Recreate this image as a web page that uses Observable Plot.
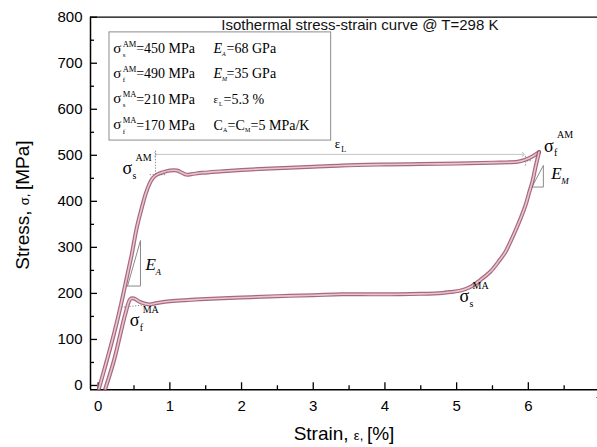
<!DOCTYPE html>
<html><head><meta charset="utf-8">
<script src="https://cdn.jsdelivr.net/npm/d3@7"></script>
<script src="https://cdn.jsdelivr.net/npm/@observablehq/plot@0.6"></script>
<style>html,body{margin:0;padding:0;background:#fff;overflow:hidden}svg{display:block}</style>
</head><body><div id="chart"></div>
<script>
// ---- data (strain in %, stress in MPa) ----
const loadStrain = [0.01,0.12,0.22,0.31,0.40,0.47,0.54,0.61,0.66,0.71,0.76,0.82,0.90,1.00,1.10,1.17,1.23,1.30,1.45,1.70,2.00,2.50,3.00,3.40,4.00,4.50,5.00,5.50,5.85,5.95,6.05,6.15];
const loadStress = [-7,54,112,170,235,286,344,387,415,436,450,458,463,467,467,462,458,459,462,465,468,472,475,478,480,481,482,484,486,490,497,507];
const unloadStrain = [6.15,6.10,6.06,6.01,5.96,5.89,5.82,5.75,5.68,5.58,5.47,5.33,5.19,5.05,4.92,4.80,4.50,4.20,3.80,3.40,3.00,2.50,2.00,1.50,1.29,1.00,0.82,0.71,0.59,0.50,0.45,0.38,0.31,0.22,0.10];
const unloadStress = [507,474,445,418,391,362,336,312,290,268,247,229,214,206,203,201,199,198,198,198,196,194,191,188,186,183,179,176,181,189,188,156,112,54,-7];

const xTicks = [0,1,2,3,4,5,6];
const xMinor = [0.5,1.5,2.5,3.5,4.5,5.5,6.5];
const yTicks = [0,100,200,300,400,500,600,700,800];
const yMinor = [50,150,250,350,450,550,650,750];
const xDomain = [-0.107, 6.965];
const yDomain = [-9.4, 800];

// parameter box
const titleText = "Isothermal stress-strain curve @ T=298 K";
const titlePos = [3.65, 782];
const boxX = [0.158, 3.25];
const boxY = [532, 767];
const rowY = [731, 677, 622, 565];
const col1X = 0.21, col2X = 1.61;
const sigSub = ["s","f","s","f"];
const sigSup = ["AM","AM","MA","MA"];
const sigVal = ["=450 MPa","=490 MPa","=210 MPa","=170 MPa"];
const modSub = ["A","M"];
const modVal = ["=68 GPa","=35 GPa"];
const epsRow = {base: "ε", sub: "L", val: "=5.3 %"};
const cRow = {base: "C", sub1: "A", mid: "=C", sub2: "M", val: "=5 MPa/K"};

// annotations on the curve: [strain, stress]
const sigmaLabels = [
  {x: 0.34, y: 471, sub: "s", sup: "AM"},
  {x: 0.44, y: 141, sub: "f", sup: "MA"},
  {x: 6.22, y: 520, sub: "f", sup: "AM"},
  {x: 5.04, y: 193, sub: "s", sup: "MA"}
];
const triA = [[0.41,216],[0.59,315],[0.59,216],[0.41,216]];
const triM = [[6.05,431],[6.21,478],[6.21,431],[6.05,431]];
const eLabels = [{x: 0.66, y: 262, sub: "A"}, {x: 6.32, y: 460, sub: "M"}];
const epsL = {x1: 0.80, x2: 5.93, y: 502, lx: 3.30, ly: 524};
const dotted = [
  {x1: 0.80, y1: 510, x2: 0.80, y2: 452},
  {x1: 0.72, y1: 458, x2: 0.95, y2: 458},
  {x1: 0.32, y1: 170, x2: 0.85, y2: 178},
  {x1: 4.84, y1: 205, x2: 5.02, y2: 205},
  {x1: 5.94, y1: 488, x2: 6.06, y2: 488},
  {x1: 5.96, y1: 478, x2: 5.96, y2: 500}
];

const load = loadStrain.map((x,i)=>({x, y: loadStress[i]}));
const unload = unloadStrain.map((x,i)=>({x, y: unloadStress[i]}));
const rows = rowY.map((y,i)=>({y, i}));
const modRows = rows.slice(0,2);

const W = 597, H = 447, mL = 90, mR = 0, mT = 16.7, mB = 57.7;
const innerW = W - mL - mR, innerH = H - mT - mB;
const serif = "'Liberation Serif','Times New Roman',serif";
const curveDark = "#9a4d66", curveLight = "#e6c6cf";

const chart = Plot.plot({
  width: W, height: H,
  marginLeft: mL, marginRight: mR, marginTop: mT, marginBottom: mB,
  x: {domain: xDomain},
  y: {domain: yDomain},
  style: {fontFamily: "'Liberation Sans',Arial,sans-serif", fontSize: "15px", color: "#000", background: "#fff"},
  marks: [
    // tick marks (inward)
    Plot.ruleX(xTicks, {x: d=>d, insetTop: innerH - 7, stroke: "#000", strokeWidth: 1.3}),
    Plot.ruleX(xMinor, {x: d=>d, insetTop: innerH - 4, stroke: "#000", strokeWidth: 1.3}),
    Plot.ruleY(yTicks, {y: d=>d, insetRight: innerW - 7, stroke: "#000", strokeWidth: 1.3}),
    Plot.ruleY(yMinor, {y: d=>d, insetRight: innerW - 4, stroke: "#000", strokeWidth: 1.3}),
    Plot.axisX({ticks: xTicks, tickSize: 0, tickPadding: 11, fontSize: 15}),
    Plot.axisY({ticks: yTicks, tickSize: 0, tickPadding: 8, fontSize: 15, label: null}),
    Plot.text(["7"], {x: 7, frameAnchor: "bottom", dy: 17, fontSize: 15}),
    // frame (left, bottom, top)
    Plot.ruleX([xDomain[0]], {stroke: "#000", strokeWidth: 1.5}),
    Plot.ruleY([yDomain[0]], {stroke: "#000", strokeWidth: 1.5}),
    Plot.ruleY([yDomain[1]], {stroke: "#000", strokeWidth: 1.2}),
    // parameter box
    Plot.rect([0], {x1: boxX[0], x2: boxX[1], y1: boxY[0], y2: boxY[1], fill: "none", stroke: "#8c8c8c", strokeWidth: 1}),
    Plot.text([titleText], {x: titlePos[0], y: titlePos[1], fontSize: 15, fill: "#111"}),
    Plot.text(rows, {x: col1X, y: "y", text: ()=>"σ", textAnchor: "start", fontSize: 15, fontFamily: serif, dy: -1}),
    Plot.text(rows, {x: col1X, y: "y", text: d=>sigSub[d.i], textAnchor: "start", fontSize: 7, fontFamily: serif, dx: 9.5, dy: 6}),
    Plot.text(rows, {x: col1X, y: "y", text: d=>sigSup[d.i], textAnchor: "start", fontSize: 8.5, fontFamily: serif, dx: 9.5, dy: -5}),
    Plot.text(rows, {x: col1X, y: "y", text: d=>sigVal[d.i], textAnchor: "start", fontSize: 14, fontFamily: serif, dx: 23}),
    // E_A, E_M rows
    Plot.text(modRows, {x: col2X, y: "y", text: ()=>"E", textAnchor: "start", fontSize: 14, fontFamily: serif, fontStyle: "italic"}),
    Plot.text(modRows, {x: col2X, y: "y", text: d=>modSub[d.i], textAnchor: "start", fontSize: 6, fontFamily: serif, fontStyle: "italic", dx: 8.5, dy: 5}),
    Plot.text(modRows, {x: col2X, y: "y", text: d=>modVal[d.i], textAnchor: "start", fontSize: 14, fontFamily: serif, dx: 13}),
    // eps_L row
    Plot.text([rows[2]], {x: col2X, y: "y", text: ()=>epsRow.base, textAnchor: "start", fontSize: 11, fontFamily: serif}),
    Plot.text([rows[2]], {x: col2X, y: "y", text: ()=>epsRow.sub, textAnchor: "start", fontSize: 6, fontFamily: serif, dx: 5.5, dy: 5}),
    Plot.text([rows[2]], {x: col2X, y: "y", text: ()=>epsRow.val, textAnchor: "start", fontSize: 14, fontFamily: serif, dx: 10}),
    // C row
    Plot.text([rows[3]], {x: col2X, y: "y", text: ()=>cRow.base, textAnchor: "start", fontSize: 14, fontFamily: serif}),
    Plot.text([rows[3]], {x: col2X, y: "y", text: ()=>cRow.sub1, textAnchor: "start", fontSize: 6, fontFamily: serif, dx: 9.5, dy: 5}),
    Plot.text([rows[3]], {x: col2X, y: "y", text: ()=>cRow.mid, textAnchor: "start", fontSize: 14, fontFamily: serif, dx: 14}),
    Plot.text([rows[3]], {x: col2X, y: "y", text: ()=>cRow.sub2, textAnchor: "start", fontSize: 6, fontFamily: serif, dx: 31.5, dy: 5}),
    Plot.text([rows[3]], {x: col2X, y: "y", text: ()=>cRow.val, textAnchor: "start", fontSize: 14, fontFamily: serif, dx: 37}),
    // eps_L arrow
    Plot.link([epsL], {x1: "x1", x2: "x2", y1: "y", y2: "y", stroke: "#c4c4c4", strokeWidth: 1, markerStart: "arrow", markerEnd: "arrow"}),
    Plot.text([epsL], {x: "lx", y: "ly", text: ()=>"ε", fontSize: 13, fontFamily: serif, textAnchor: "start"}),
    Plot.text([epsL], {x: "lx", y: "ly", text: ()=>"L", fontSize: 8, fontFamily: serif, textAnchor: "start", dx: 6.5, dy: 5}),
    // dotted helper lines
    Plot.link(dotted, {x1: "x1", y1: "y1", x2: "x2", y2: "y2", stroke: "#777", strokeWidth: 0.9, strokeDasharray: "1.2,1.6"}),
    // slope triangles
    Plot.line(triA, {x: d=>d[0], y: d=>d[1], stroke: "#8a8a8a", strokeWidth: 1}),
    Plot.line(triM, {x: d=>d[0], y: d=>d[1], stroke: "#8a8a8a", strokeWidth: 1}),
    Plot.text(eLabels, {x: "x", y: "y", text: ()=>"E", fontSize: 17, fontStyle: "italic", fontFamily: serif, textAnchor: "start"}),
    Plot.text(eLabels, {x: "x", y: "y", text: "sub", fontSize: 9, fontStyle: "italic", fontFamily: serif, textAnchor: "start", dx: 10, dy: 7}),
    // curve
    Plot.line(load, {x: "x", y: "y", stroke: curveDark, strokeWidth: 4, strokeOpacity: 0.85, curve: "catmull-rom"}),
    Plot.line(load, {x: "x", y: "y", stroke: curveLight, strokeWidth: 1.6, curve: "catmull-rom"}),
    Plot.line(unload, {x: "x", y: "y", stroke: curveDark, strokeWidth: 4, strokeOpacity: 0.85, curve: "catmull-rom"}),
    Plot.line(unload, {x: "x", y: "y", stroke: curveLight, strokeWidth: 1.6, curve: "catmull-rom"}),
    // sigma labels
    Plot.text(sigmaLabels, {x: "x", y: "y", text: ()=>"σ", fontSize: 18, fontFamily: serif, textAnchor: "start"}),
    Plot.text(sigmaLabels, {x: "x", y: "y", text: "sub", fontSize: 10, fontFamily: serif, textAnchor: "start", dx: 10, dy: 7}),
    Plot.text(sigmaLabels, {x: "x", y: "y", text: "sup", fontSize: 10, fontFamily: serif, textAnchor: "start", dx: 13, dy: -11})
  ]
});
document.getElementById("chart").appendChild(chart);

// axis titles
const svg = d3.select(chart);
const xl = svg.append("text").attr("x", 344).attr("y", 440).attr("text-anchor", "middle")
  .attr("font-size", 19).attr("font-family", "'Liberation Sans',Arial,sans-serif").attr("fill", "#000");
xl.append("tspan").text("Strain, ");
xl.append("tspan").attr("font-size", 13).text("ε, ");
xl.append("tspan").text("[%]");
const yl = svg.append("text").attr("transform", "translate(29,205) rotate(-90)").attr("text-anchor", "middle")
  .attr("font-size", 19).attr("font-family", "'Liberation Sans',Arial,sans-serif").attr("fill", "#000");
yl.append("tspan").text("Stress, ");
yl.append("tspan").attr("font-size", 13).text("σ, ");
yl.append("tspan").text("[MPa]");
</script>
</body></html>
